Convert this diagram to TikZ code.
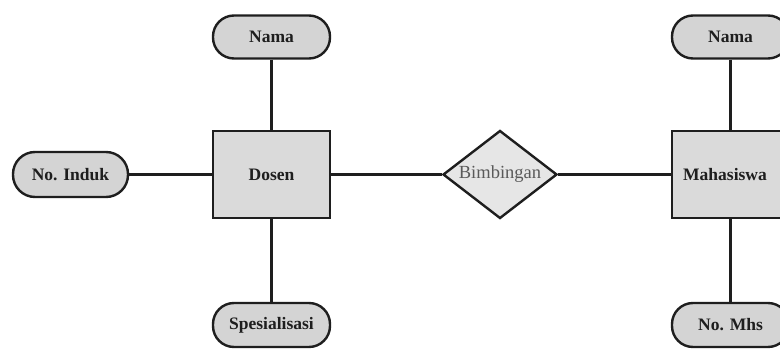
\documentclass[tikz,border=0pt]{standalone}
\usepackage{fontspec}
\setmainfont{Liberation Serif}
\usetikzlibrary{shapes.geometric}
\definecolor{attrfill}{HTML}{D4D4D4}
\definecolor{entfill}{HTML}{DADADA}
\definecolor{relfill}{HTML}{E6E6E6}
\definecolor{ink}{HTML}{1E1E1E}
\definecolor{reltext}{HTML}{5A5A5A}
\tikzset{
  attr/.style={draw=ink, line width=2.4pt, fill=attrfill, rectangle, rounded corners=21pt,
    minimum width=117pt, minimum height=43pt, inner sep=0pt,
    font=\fontsize{17.5}{20}\selectfont\bfseries, text=ink},
  ent/.style={draw=ink, line width=2.4pt, fill=entfill, rectangle,
    minimum width=117pt, minimum height=87pt, inner sep=0pt,
    font=\fontsize{17.5}{20}\selectfont\bfseries, text=ink},
  rel/.style={draw=ink, line width=2.4pt, fill=relfill, diamond,
    minimum width=114pt, minimum height=88pt, inner sep=0pt},
  conn/.style={draw=ink, line width=2.4pt}
}
\begin{document}
\begin{tikzpicture}[x=1pt,y=-1pt]
\useasboundingbox (0,0) rectangle (780,350);
\fill[white] (0,0) rectangle (780,350);
\node[ent] (dosen) at (271.5,174.5) {Dosen};
\node[ent] (mhs) at (730.5,174.5) {};
\node[font=\fontsize{17.5}{20}\selectfont\bfseries, text=ink] (mhslabel) at (725,174.5) {Mahasiswa};
\node[rel, label={[font=\fontsize{18.5}{20}\selectfont, text=reltext]center:Bimbingan}] (bimb) at (500,174.5) {};
\node[attr] (dnama) at (271.5,37) {Nama};
\node[attr, minimum width=115pt, minimum height=45pt, rounded corners=22pt] (induk) at (70.5,174.5) {No. Induk};
\node[attr, minimum height=44pt] (spes) at (271.5,325) {Spesialisasi};
\node[attr] (mnama) at (730.5,37) {Nama};
\node[attr, minimum height=44pt] (nomhs) at (730.5,325) {No. Mhs};
\draw[conn] (dnama) -- (dosen);
\draw[conn] (dosen) -- (spes);
\draw[conn] (induk) -- (dosen);
\draw[conn] (dosen) -- (bimb);
\draw[conn] (bimb) -- (mhs);
\draw[conn] (mnama) -- (mhs);
\draw[conn] (mhs) -- (nomhs);
\end{tikzpicture}
\end{document}
